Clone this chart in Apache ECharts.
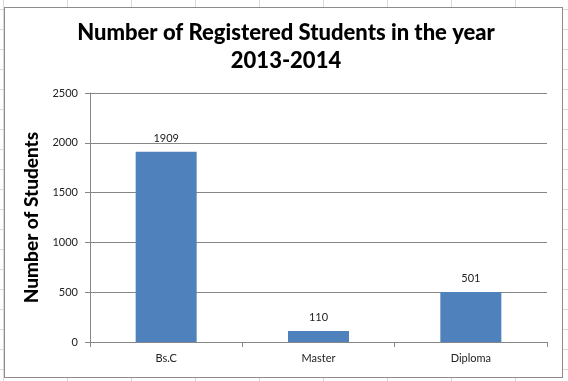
<!DOCTYPE html>
<html><head><meta charset="utf-8">
<script src="https://cdn.jsdelivr.net/npm/echarts@6/dist/echarts.min.js"></script>
<style>
html,body{margin:0;padding:0;}
#wrap{position:relative;width:568px;height:381px;background-color:#fff;
background-image:linear-gradient(to right,#dadada 1px,transparent 1px),linear-gradient(to bottom,#dadada 1px,transparent 1px);
background-size:64px 20px;background-position:3px 9px;}
#frame{position:absolute;left:4px;top:7px;width:557px;height:369px;background:#fff;border:1px solid #8c8c8c;}
#chart{position:absolute;left:0;top:0;width:568px;height:381px;}
</style></head>
<body><div id="wrap"><div id="frame"></div><div id="chart"></div></div>
<script>
const titleText = "Number of Registered Students in the year\n2013-2014";
const yAxisName = "Number of Students";
const categories = ["Bs.C", "Master", "Diploma"];
const students = [1909, 110, 501];
const yTicks = { min: 0, max: 2500, interval: 500 };

const chart = echarts.init(document.getElementById('chart'), null, {renderer:'canvas'});
chart.setOption({
  backgroundColor: 'transparent',
  animation: false,
  title: {
    text: titleText, left: 281, top: 14, textAlign: 'center',
    textStyle: { fontFamily: 'Lato', fontWeight: 900, fontSize: 22, color: '#000', lineHeight: 28 }
  },
  grid: { left: 90, right: 21, top: 93, bottom: 39, containLabel: false },
  xAxis: {
    type: 'category', data: categories,
    axisLine: { show: true, lineStyle: { color: '#868686', width: 1 } },
    axisTick: { show: true, length: 5, alignWithLabel: false, lineStyle: { color: '#868686' } },
    axisLabel: { margin: 11, fontFamily: 'Lato', fontSize: 11, color: '#222' }
  },
  yAxis: {
    type: 'value', min: yTicks.min, max: yTicks.max, interval: yTicks.interval,
    name: yAxisName, nameLocation: 'middle', nameGap: 43,
    nameTextStyle: { fontFamily: 'Lato', fontWeight: 900, fontSize: 19, color: '#000' },
    axisLine: { show: true, lineStyle: { color: '#868686', width: 1 } },
    axisTick: { show: true, length: 5, lineStyle: { color: '#868686' } },
    axisLabel: { margin: 12, fontFamily: 'Lato', fontSize: 11, color: '#222', formatter: v => String(v) },
    splitLine: { show: true, lineStyle: { color: '#868686', width: 1 } }
  },
  series: [{
    type: 'bar', data: students, barWidth: 61,
    itemStyle: { color: '#4f81bd' },
    label: { show: true, position: 'top', distance: 8, fontFamily: 'Lato', fontSize: 11, color: '#222' }
  }]
});
</script></body></html>
